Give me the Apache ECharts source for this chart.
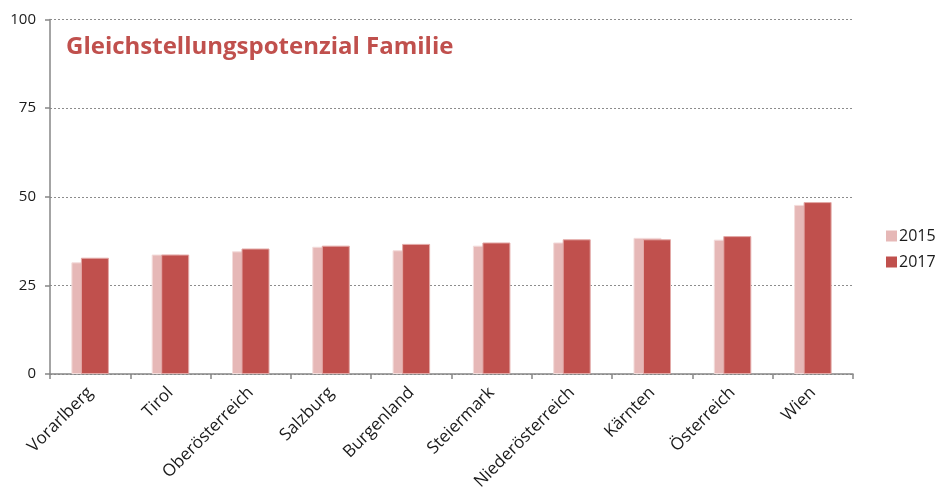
<!DOCTYPE html>
<html>
<head>
<meta charset="utf-8">
<script src="https://cdn.jsdelivr.net/npm/echarts@6/dist/echarts.min.js"></script>
<style>
  html, body { margin: 0; padding: 0; background: #fff; }
  #chart { width: 945px; height: 490px; }
</style>
</head>
<body>
<div id="chart"></div>
<script>
// Bundesländer und Österreich-Gesamt
const categories = ['Vorarlberg', 'Tirol', 'Oberösterreich', 'Salzburg', 'Burgenland',
  'Steiermark', 'Niederösterreich', 'Kärnten', 'Österreich', 'Wien'];
const values2015 = [31.5, 33.7, 34.6, 35.9, 34.9, 36.2, 37.1, 38.4, 37.9, 47.7];
const values2017 = [32.8, 33.7, 35.4, 36.2, 36.7, 37.1, 38.0, 38.0, 38.9, 48.5];
const seriesNames = ['2015', '2017'];
const titleText = 'Gleichstellungspotenzial Familie';

const FONT = '"Open Sans", Lato, sans-serif';
const chart = echarts.init(document.getElementById('chart'), null, { renderer: 'canvas' });

chart.setOption({
  animation: false,
  backgroundColor: '#ffffff',
  title: {
    text: titleText,
    left: 61,
    top: 30,
    textStyle: { color: '#C0504D', fontSize: 24, fontWeight: 'bold', fontFamily: FONT }
  },
  legend: {
    orient: 'vertical',
    left: 881,
    top: 223,
    itemWidth: 11,
    itemHeight: 11,
    itemGap: 10,
    icon: 'rect',
    itemStyle: { borderWidth: 0 },
    textStyle: { fontSize: 16, color: '#1a1a1a', fontFamily: FONT, padding: [0, 0, 0, -3] },
    data: seriesNames
  },
  grid: { left: 50, right: 92, top: 19.5, bottom: 116, containLabel: false, outerBoundsMode: 'none' },
  xAxis: {
    type: 'category',
    data: categories,
    boundaryGap: true,
    axisLine: { lineStyle: { color: '#868686', width: 1.5 } },
    axisTick: { show: true, alignWithLabel: false, length: 5, lineStyle: { color: '#868686', width: 1.5 } },
    axisLabel: { rotate: 45, fontSize: 17, color: '#1a1a1a', fontFamily: FONT, margin: 16, interval: 0 }
  },
  yAxis: {
    type: 'value',
    min: 0,
    max: 100,
    interval: 25,
    axisLine: { show: true, lineStyle: { color: '#868686', width: 1.5 } },
    axisTick: { show: true, length: 5, lineStyle: { color: '#868686', width: 1.5 } },
    axisLabel: { fontSize: 15, color: '#1a1a1a', fontFamily: FONT, margin: 14 },
    splitLine: { show: true, lineStyle: { color: '#8c8c8c', type: [2, 2], width: 1 } }
  },
  series: [
    {
      name: seriesNames[0],
      type: 'bar',
      data: values2015,
      barWidth: 28,
      barGap: '-66%',
      itemStyle: { color: '#E6B8B7', borderColor: '#f3dcdb', borderWidth: 1 }
    },
    {
      name: seriesNames[1],
      type: 'bar',
      data: values2017,
      barWidth: 28,
      itemStyle: { color: '#C0504D', borderColor: '#e3a9a7', borderWidth: 1 }
    }
  ]
});
</script>
</body>
</html>
